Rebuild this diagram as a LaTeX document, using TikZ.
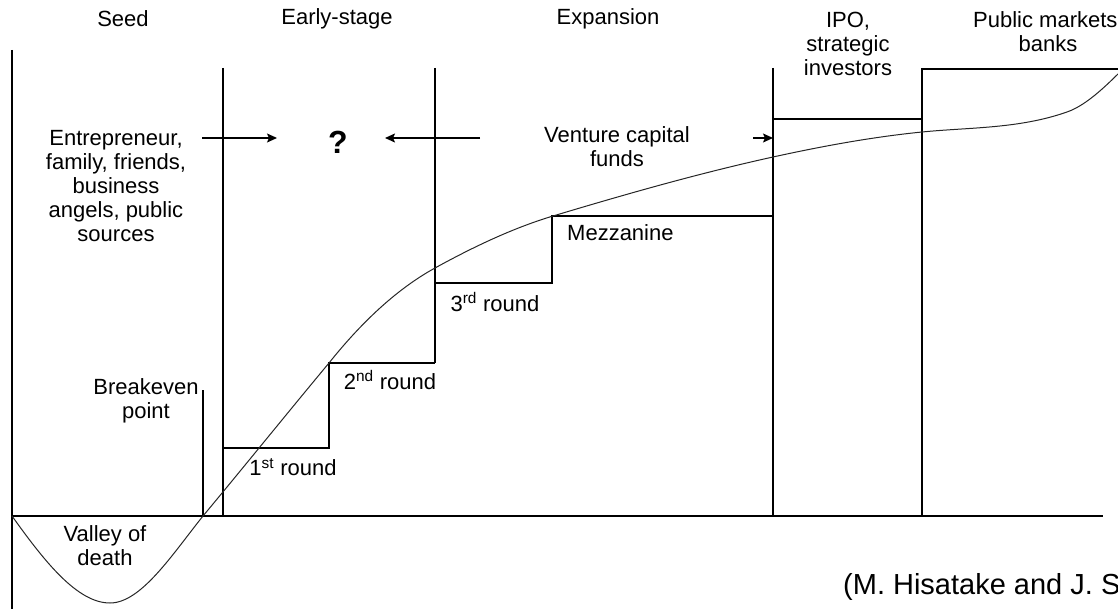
\documentclass[tikz,border=0pt]{standalone}
\usepackage{fontspec}
\setmainfont{Liberation Sans}
\usetikzlibrary{arrows.meta}
\begin{document}
\begin{tikzpicture}[x=1pt,y=-1pt,
  lbl/.style={font=\fontsize{22}{24}\selectfont, align=center, inner sep=0pt, text=black},
  ln/.style={line width=1.4pt, black},
  arr/.style={line width=1.4pt, black, -{Stealth[length=10pt,width=9pt,inset=2pt]}},
  growth/.style={line width=1pt, black!85}]
\useasboundingbox (0,0) rectangle (1118,609);
\clip (0,0) rectangle (1118,609);

% stage headings
\node[lbl] (seed)  at (123,19) {Seed};
\node[lbl] (early) at (337,19) {Early-stage};
\node[lbl] (expan) at (608,19) {Expansion};
\node[lbl] (ipo)   at (848,44) {IPO,\\strategic\\investors};
\node[lbl, anchor=west] (pub) at (973,20) {Public markets};
\node[lbl] (banks) at (1048,44) {banks};

% funding sources
\node[lbl] (ent) at (116,186) {Entrepreneur,\\family, friends,\\business\\angels, public\\sources};
\node[lbl, font=\bfseries\fontsize{32}{34}\selectfont] (q) at (338,142) {?};
\node[lbl] (vc) at (617,147) {Venture capital\\funds};

% round labels
\node[lbl, anchor=west] (mezz) at (567,233) {Mezzanine};
\node[lbl] (r1) at (293,467) {1\textsuperscript{st} round};
\node[lbl] (r2) at (390,380) {2\textsuperscript{nd} round};
\node[lbl] (r3) at (495,302) {3\textsuperscript{rd} round};
\node[lbl] (be) at (146,401) {Breakeven\\point};
\node[lbl] (vod) at (105,546) {Valley of\\death};
\node[lbl, anchor=west, font=\fontsize{29}{31}\selectfont] (cite) at (843,587) {(M. Hisatake and J. S};

% axes and stage separators
\draw[ln] (12,50) -- (12,609);
\draw[ln] (12,516) -- (1103,516);
\draw[ln] (223,68) -- (223,516);
\draw[ln] (435,68) -- (435,363);
\draw[ln] (773,68) -- (773,516);
\draw[ln] (922,516) -- (922,69) -- (1118,69);
\draw[ln] (203,516) -- (203,390);

% funding steps
\draw[ln] (223,448) -- (329,448) -- (329,363) -- (435,363);
\draw[ln] (435,283) -- (552,283) -- (552,216) -- (773,216);
\draw[ln] (773,119) -- (922,119);

% growth curve
\draw[growth] (12,516)
  .. controls (44.7,561.7) and (77.3,603) .. (110,603)
  .. controls (141,603) and (172,554.8) .. (203,516)
  .. controls (245,465.6) and (287,413.4) .. (329,363)
  .. controls (364.3,318.8) and (399.7,287.4) .. (435,268)
  .. controls (474.3,246.4) and (513.7,227.8) .. (553,216)
  .. controls (626.3,194) and (699.7,173.1) .. (773,157)
  .. controls (822.7,146.1) and (872.3,137) .. (922,132)
  .. controls (970.3,127.2) and (1018.7,128.9) .. (1067,112)
  .. controls (1088,104.7) and (1109,83) .. (1130,62);

% arrows
\coordinate (a1s) at (202,138); \coordinate (a1e) at (277,138);
\coordinate (a2s) at (480,138); \coordinate (a2e) at (385,138);
\coordinate (a3s) at (753,138); \coordinate (a3e) at (773,138);
\draw[arr] (a1s) -- (a1e);
\draw[arr] (a2s) -- (a2e);
\draw[arr] (a3s) -- (a3e);
\end{tikzpicture}
\end{document}
